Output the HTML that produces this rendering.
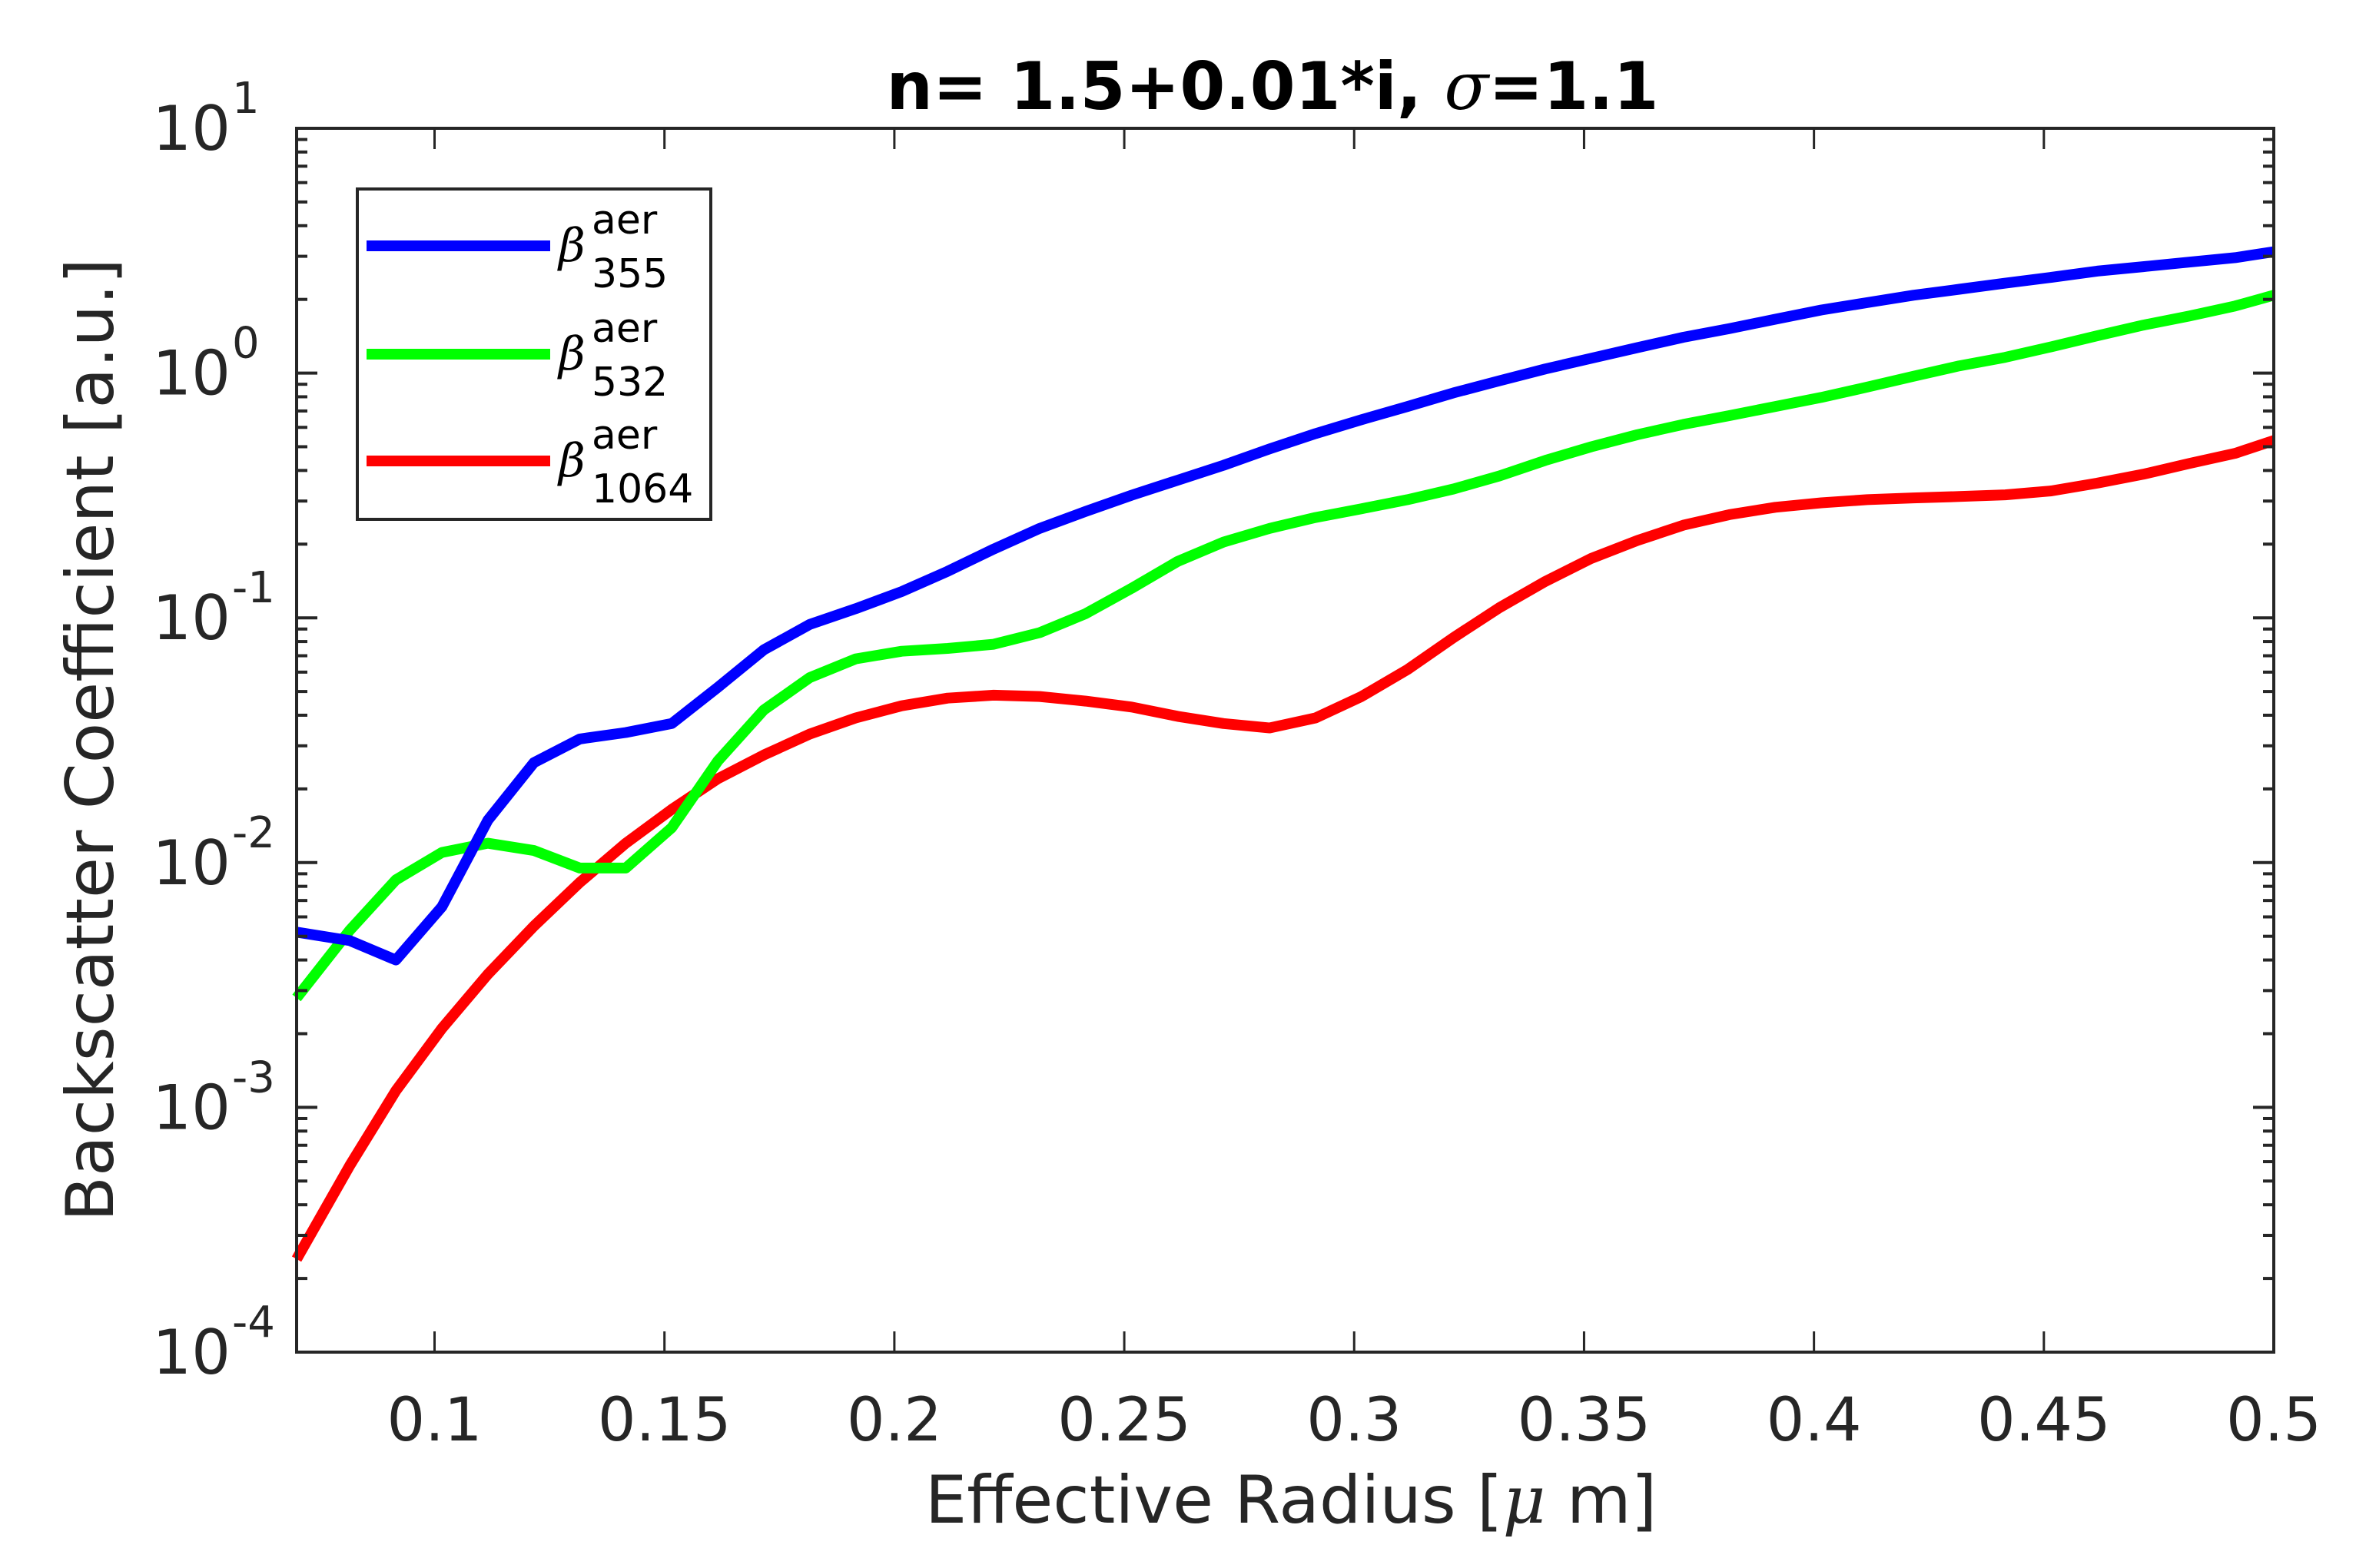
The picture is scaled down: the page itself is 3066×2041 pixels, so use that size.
<!DOCTYPE html>
<html><head><meta charset="utf-8"><style>
html,body{margin:0;padding:0;background:#fff;}
svg{display:block;}
text{font-family:"DejaVu Sans","Liberation Sans",sans-serif;fill:#262626;}
</style></head><body>
<svg id="chart" width="3066" height="2041" viewBox="0 0 3066 2041" xmlns="http://www.w3.org/2000/svg">
<rect width="3066" height="2041" fill="#fff"/>
<g id="series"></g>
<g id="axes"></g>
<text x="1656" y="142" text-anchor="middle" font-size="86" font-weight="bold" style="fill:#000" textLength="1005" lengthAdjust="spacingAndGlyphs">n= 1.5+0.01*i, <tspan font-family="DejaVu Serif" font-style="italic" font-weight="normal">σ</tspan>=1.1</text>
<text x="1680" y="1982" text-anchor="middle" font-size="86">Effective Radius [<tspan font-family="DejaVu Serif" font-style="italic">μ</tspan> m]</text>
<text transform="translate(147,963) rotate(-90)" text-anchor="middle" font-size="86">Backscatter Coefficient [a.u.]</text>
<g>
<rect x="465" y="246" width="460" height="430" fill="#fff" stroke="#262626" stroke-width="4"/>
<line x1="477" y1="320" x2="716" y2="320" stroke="#0000ff" stroke-width="14"/>
<line x1="477" y1="461" x2="716" y2="461" stroke="#00ff00" stroke-width="14"/>
<line x1="477" y1="600" x2="716" y2="600" stroke="#ff0000" stroke-width="14"/>
<g font-size="52" style="fill:#000">
<text x="727" y="340" style="fill:#000"><tspan font-family="DejaVu Serif" font-style="italic" font-size="60">β</tspan><tspan x="770" y="304">aer</tspan><tspan x="770" y="374">355</tspan></text>
<text x="727" y="481" style="fill:#000"><tspan font-family="DejaVu Serif" font-style="italic" font-size="60">β</tspan><tspan x="770" y="445">aer</tspan><tspan x="770" y="515">532</tspan></text>
<text x="727" y="620" style="fill:#000"><tspan font-family="DejaVu Serif" font-style="italic" font-size="60">β</tspan><tspan x="770" y="584">aer</tspan><tspan x="770" y="654">1064</tspan></text>
</g>
</g>
</svg>
<script>
const radii = [0.07,0.0816,0.0916,0.1016,0.1116,0.1216,0.1316,0.1416,0.1516,0.1616,0.1716,0.1816,0.1916,0.2016,0.2116,0.2216,0.2316,0.2416,0.2516,0.2616,0.2716,0.2816,0.2916,0.3016,0.3116,0.3216,0.3316,0.3416,0.3516,0.3616,0.3716,0.3816,0.3916,0.4016,0.4116,0.4216,0.4316,0.4416,0.4516,0.4616,0.4716,0.4816,0.4916,0.50];
const beta355 = [0.0052,0.0048,0.0040,0.0066,0.0149,0.0256,0.032,0.034,0.037,0.052,0.074,0.094,0.109,0.128,0.155,0.191,0.232,0.272,0.317,0.365,0.42,0.49,0.566,0.645,0.73,0.83,0.93,1.04,1.15,1.27,1.40,1.52,1.66,1.81,1.94,2.08,2.20,2.33,2.46,2.61,2.72,2.84,2.96,3.13];
const beta532 = [0.0028,0.0053,0.0085,0.011,0.012,0.0112,0.0095,0.0095,0.0139,0.026,0.042,0.057,0.068,0.073,0.075,0.078,0.087,0.104,0.132,0.17,0.204,0.232,0.257,0.279,0.304,0.336,0.38,0.44,0.50,0.56,0.617,0.67,0.73,0.795,0.877,0.97,1.07,1.16,1.28,1.42,1.57,1.71,1.88,2.08];
const beta1064 = [0.00024,0.00058,0.00117,0.0021,0.0035,0.0055,0.0083,0.012,0.0165,0.022,0.0275,0.0335,0.039,0.0437,0.047,0.0483,0.0477,0.0457,0.0432,0.0396,0.037,0.0355,0.039,0.0477,0.0615,0.083,0.11,0.141,0.175,0.207,0.239,0.264,0.283,0.295,0.304,0.309,0.313,0.318,0.33,0.355,0.386,0.427,0.47,0.53];
const xTicks = [0.1,0.15,0.2,0.25,0.3,0.35,0.4,0.45,0.5];
const xTickLabels = ["0.1","0.15","0.2","0.25","0.3","0.35","0.4","0.45","0.5"];
const yTickExps = [-4,-3,-2,-1,0,1];
const xDomain = [0.07,0.5];
const yDomainExp = [-4,1];

const L=386,R=2959,T=167,B=1760;
const NS='http://www.w3.org/2000/svg';
function xs(v){return L+(v-xDomain[0])/(xDomain[1]-xDomain[0])*(R-L);}
function ys(v){return B-(Math.log10(v)-yDomainExp[0])/(yDomainExp[1]-yDomainExp[0])*(B-T);}
function mk(tag,attrs,parent){const e=document.createElementNS(NS,tag);for(const k in attrs)e.setAttribute(k,attrs[k]);parent.appendChild(e);return e;}
const axes=document.getElementById('axes');
const series=document.getElementById('series');
const col='#262626';

const defs=[[beta355,'#0000ff','line-beta-355'],[beta532,'#00ff00','line-beta-532'],[beta1064,'#ff0000','line-beta-1064']];
defs.slice().reverse().forEach(([arr,c,name])=>{
  const d=arr.map((v,i)=>(i?'L':'M')+xs(radii[i]).toFixed(1)+' '+ys(v).toFixed(1)).join(' ');
  const p=mk('path',{d:d,fill:'none',stroke:c,'stroke-width':14,'stroke-linejoin':'round'},series);
  
  
});

const fr=mk('rect',{x:L,y:T,width:R-L,height:B-T,fill:'none',stroke:col,'stroke-width':4},axes);



xTicks.forEach((v,i)=>{
  const x=xs(v);
  const t1=mk('line',{x1:x,y1:B,x2:x,y2:B-27,stroke:col,'stroke-width':3},axes);
  
  
  const t2=mk('line',{x1:x,y1:T,x2:x,y2:T+27,stroke:col,'stroke-width':3},axes);
  
  
  const lb=mk('text',{x:x,y:1875,'text-anchor':'middle','font-size':78},axes);
  lb.textContent=xTickLabels[i];
  
  
});

yTickExps.forEach((e,i)=>{
  const y=ys(Math.pow(10,e));
  [[L,L+27],[R,R-27]].forEach(([a,b])=>{
    const t=mk('line',{x1:a,y1:y,x2:b,y2:y,stroke:col,'stroke-width':4},axes);
    
    
  });
  const lb=mk('text',{x:300,y:y+28,'text-anchor':'end','font-size':80},axes);
  lb.textContent='10';
  
  
  const sup=mk('text',{x:302,y:y-20,'text-anchor':'start','font-size':56},axes);
  sup.textContent=String(e);
  
  
  if(e<yDomainExp[1]){
    for(let m=2;m<=9;m++){
      const ym=ys(m*Math.pow(10,e));
      [[L,L+14],[R,R-14]].forEach(([a,b])=>{
        const t=mk('line',{x1:a,y1:ym,x2:b,y2:ym,stroke:col,'stroke-width':4},axes);
        
        
      });
    }
  }
});
</script>
</body></html>
